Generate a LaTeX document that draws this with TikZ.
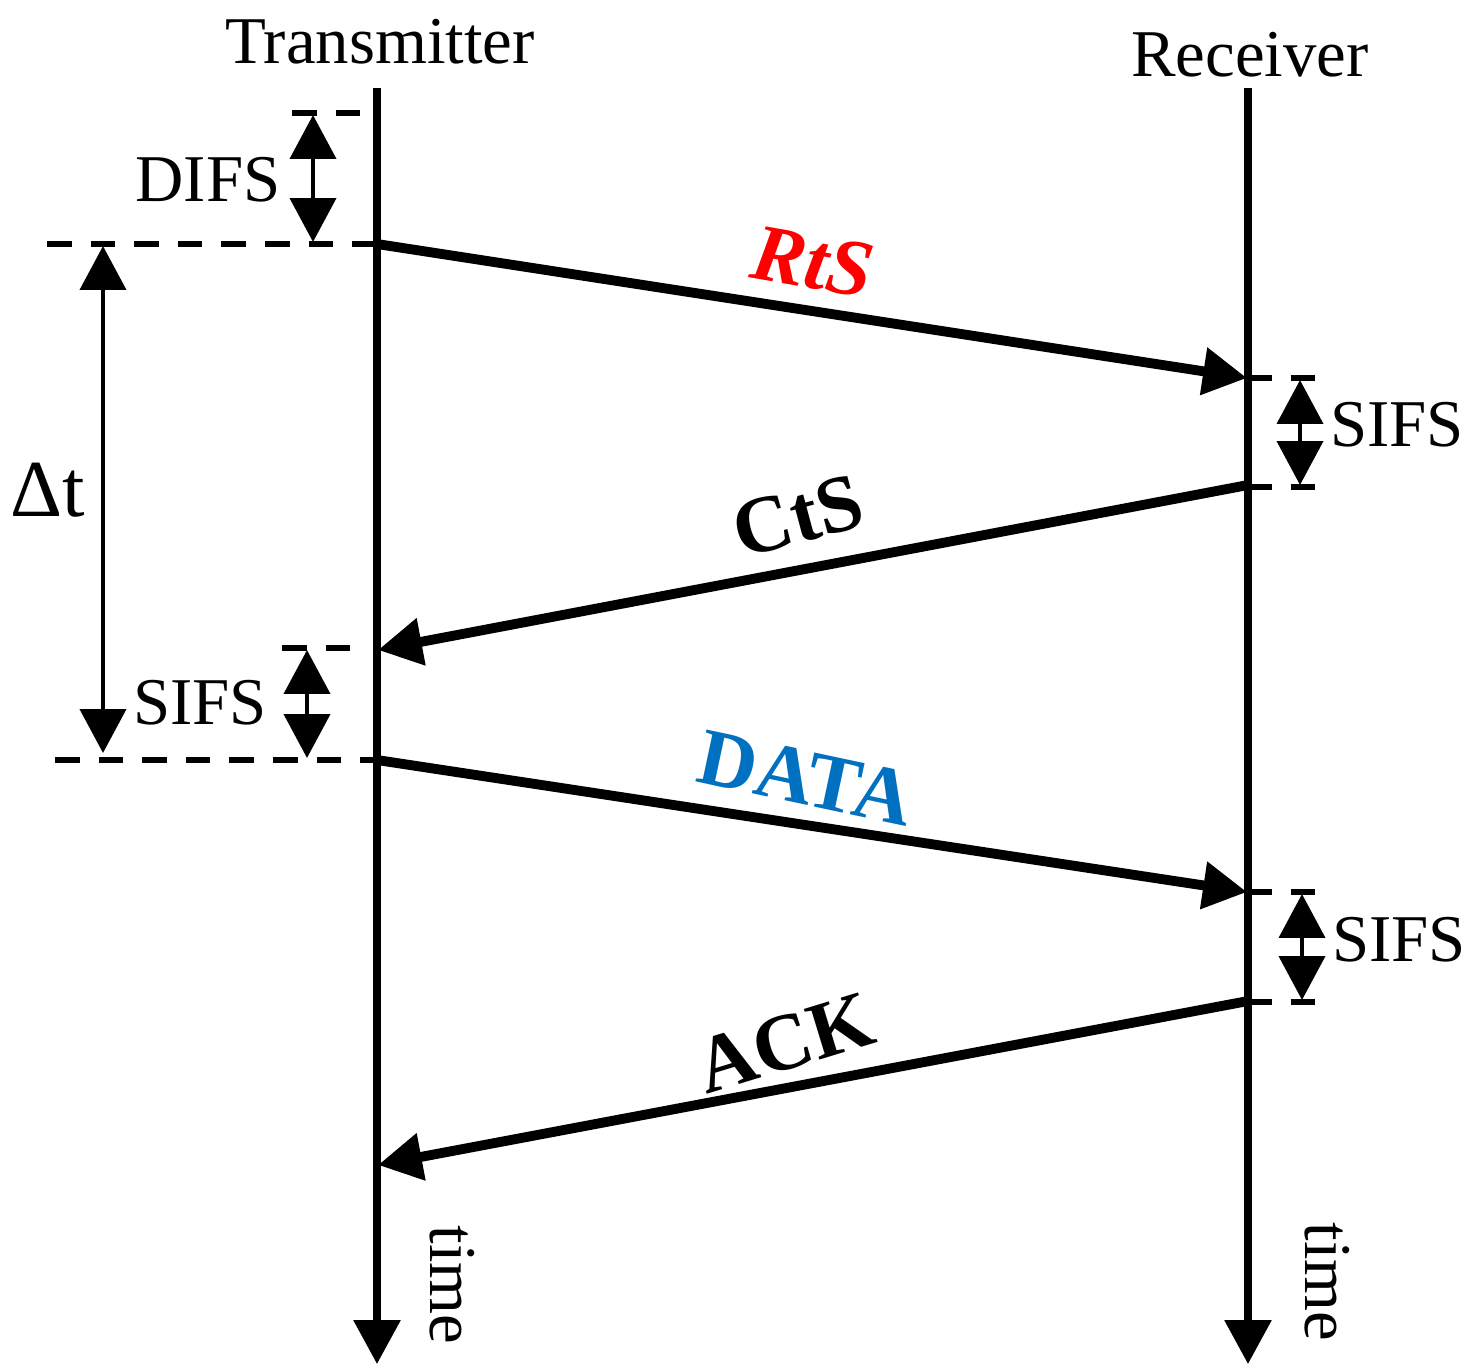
\documentclass[tikz,border=0pt]{standalone}
\usepackage{fontspec}
\setmainfont{Liberation Serif}
\usetikzlibrary{arrows.meta}
\definecolor{datablue}{RGB}{0,112,192}

\begin{document}
\begin{tikzpicture}[x=0.01cm,y=-0.01cm,
  arr/.style={-{Triangle[length=12.5pt,width=13pt]}},
  span/.style={{Triangle[length=12.5pt,width=13pt]}-{Triangle[length=12.5pt,width=13pt]},line width=1.4pt},
  timeline/.style={arr,line width=2pt},
  msg/.style={arr,line width=2.8pt},
  dashline/.style={line width=1.8pt,dash pattern=on 7pt off 5.4pt},
  lbl/.style={font=\fontsize{19}{22}\selectfont},
  msglabel/.style={inner sep=0pt,font=\fontsize{23}{27}\selectfont\bfseries}]
\useasboundingbox (0,0) rectangle (1478,1372);
% time lines
\node[lbl] (tx) at (380,42) {Transmitter}; \node[lbl] (rx) at (1250,55) {Receiver};
\coordinate (tx top) at (377,88); \coordinate (tx end) at (377,1364);
\coordinate (rx top) at (1248,88); \coordinate (rx end) at (1248,1364);
\draw[timeline] (tx top) -- (tx end); \draw[timeline] (rx top) -- (rx end);
\node[lbl,rotate=-90] (tx time) at (452,1285) {time}; \node[lbl,rotate=-90] (rx time) at (1327,1282) {time};
% frames
\coordinate (rts a) at (377,244); \coordinate (rts b) at (1247,378);
\coordinate (cts a) at (1248,485); \coordinate (cts b) at (378,650);
\coordinate (data a) at (377,760); \coordinate (data b) at (1247,892);
\coordinate (ack a) at (1248,1001); \coordinate (ack b) at (378,1165);
\draw[msg] (rts a) -- (rts b); \draw[msg] (cts a) -- (cts b);
\draw[msg] (data a) -- (data b); \draw[msg] (ack a) -- (ack b);
\node[msglabel,red,rotate=-10] (rts) at (813,262) {\itshape RtS};
\node[msglabel,rotate=15] (cts) at (798,516) {CtS};
\node[msglabel,datablue,rotate=-12] (data) at (806,778) {DATA};
\node[msglabel,rotate=17] (ack) at (785,1043) {ACK};
% DIFS and SIFS at the transmitter
\draw[dashline] (292,113) -- (362,113); \draw[dashline] (47,244) -- (377,244);
\draw[span] (313,115) -- (313,242); \node[lbl] (difs) at (208,180) {DIFS};
\draw[dashline] (282,648) -- (352,648); \draw[dashline] (55,760) -- (377,760);
\draw[span] (307,650) -- (307,758); \node[lbl] (sifs tx) at (200,703) {SIFS};
\draw[span] (103,246) -- (103,753); \node[font=\fontsize{23}{27}\selectfont] (dt) at (48,490) {Δt};
% SIFS at the receiver
\foreach \x/\ya/\yb/\ly in {1300/378/487/425, 1302/892/1002/940} {
  \draw[dashline] (1247,\ya) -- (1318,\ya); \draw[dashline] (1247,\yb) -- (1318,\yb);
  \draw[span] (\x,\ya+2) -- (\x,\yb-2); \node[lbl] (sifs rx\ly) at (\x+97,\ly) {SIFS};
}
\end{tikzpicture}
\end{document}
